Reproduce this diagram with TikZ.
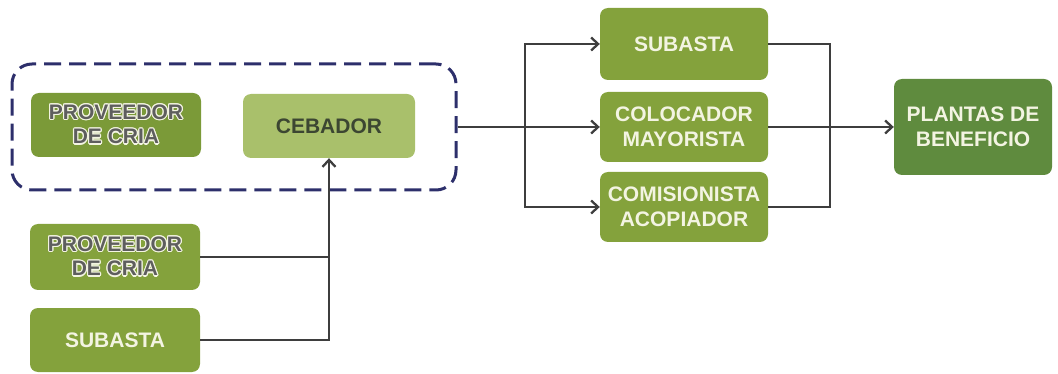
\documentclass[tikz,border=0pt]{standalone}
\usepackage{fontspec}
\setmainfont{Liberation Sans}
\usepackage{contour}
\contourlength{1.1pt}
\contournumber{12}
\usetikzlibrary{arrows.meta,fit}

\definecolor{olive}{HTML}{84A23C}
\definecolor{oliveDark}{HTML}{7B9A38}
\definecolor{oliveLight}{HTML}{A9C06B}
\definecolor{forest}{HTML}{5F8B3E}
\definecolor{cream}{HTML}{F3F4E2}
\definecolor{embossGray}{HTML}{5E5E5E}
\definecolor{cebText}{HTML}{3C4632}
\definecolor{navy}{HTML}{2D2F6B}
\definecolor{wire}{HTML}{3E3E3E}

\tikzset{
  box/.style={rounded corners=8pt, minimum width=170pt, minimum height=64pt,
    align=center, inner sep=1pt, font=\fontsize{21}{24.5}\selectfont\bfseries,
    text=cream, fill=olive},
  emboss/.style={box, fill=oliveDark, text=embossGray},
  wireline/.style={draw=wire, line width=2.3pt},
  flow/.style={wireline, -{Straight Barb[length=7pt,width=13pt,line width=2.3pt]}},
  group/.style={draw=navy, line width=3pt, rounded corners=20pt,
    dash pattern=on 17pt off 8pt},
}
% grey letters with a pale halo
\newcommand{\emb}[1]{\contour{cream}{#1}}

\begin{document}
\begin{tikzpicture}[x=1pt,y=-1pt]
  \useasboundingbox (0,0) rectangle (1058,374);

  % left column of suppliers
  \node[emboss] (prov1) at (116,125) {\emb{PROVEEDOR}\\\emb{DE CRIA}};
  \node[box, fill=oliveLight, text=cebText, minimum width=172pt] (ceb) at (329,126) {CEBADOR};
  \node[emboss, fill=olive, minimum height=66pt] (prov2) at (115,257) {\emb{PROVEEDOR}\\\emb{DE CRIA}};
  \node[box] (sub2) at (115,340) {SUBASTA};

  % dashed grouping around the first stage
  \node[group, fit={(12,64) (456,190)}, inner sep=0pt] (grp) {};

  % intermediaries
  \node[box, minimum width=168pt, minimum height=72pt] (subR) at (684,44) {SUBASTA};
  \node[box, minimum width=168pt, minimum height=70pt] (col) at (684,127) {COLOCADOR\\MAYORISTA};
  \node[box, minimum width=168pt, minimum height=70pt] (com) at (684,207) {COMISIONISTA\\ACOPIADOR};

  % destination
  \node[box, fill=forest, minimum width=158pt, minimum height=96pt] (pla) at (973,127) {PLANTAS DE\\BENEFICIO};

  % feeders into the fattener
  \draw[wireline] (prov2.east) -- (prov2.east -| ceb.south);
  \draw[flow] (sub2.east) -| (ceb.south);

  % split towards the intermediaries
  \coordinate (bx) at (525,127);
  \draw[flow] (grp.east) -- (col.west);
  \draw[flow] (bx) |- (subR.west);
  \draw[flow] (bx) |- (com.west);

  % merge towards the plants
  \coordinate (mx) at (830,127);
  \draw[wireline] (subR.east) -| (mx);
  \draw[wireline] (com.east) -| (mx);
  \draw[flow] (col.east) -- (pla.west);
\end{tikzpicture}
\end{document}
